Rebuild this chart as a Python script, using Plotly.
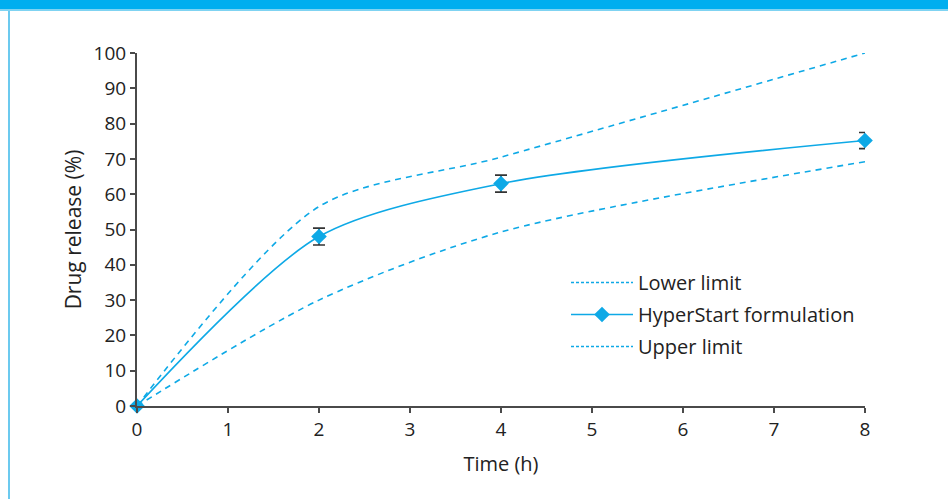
import plotly.graph_objects as go

time_h = [0, 2, 4, 8]
hyperstart = [0, 48, 63, 75.2]
hyperstart_err = [0, 2.4, 2.4, 2.3]
lower_limit = [0, 30, 49.3, 69.2]
upper_limit = [0, 56.5, 70.5, 100]

blue = "#0EA9E6"
axis_col = "#4a4a4a"
font_fam = "Open Sans, Lato, sans-serif"

W, H = 948, 499
ml, mr, mt, mb = 137, 83, 53, 93
pw, ph = W - ml - mr, H - mt - mb

def px_x(p):
    return (p - ml) / pw

def px_y(p):
    return 1 - (p - mt) / ph

fig = go.Figure()
# plotted curves
fig.add_trace(go.Scatter(x=time_h, y=lower_limit, name="Lower limit", mode="lines", showlegend=False,
                         line=dict(color=blue, width=1.6, dash="6px,5px", shape="spline", smoothing=0.8),
                         cliponaxis=False))
fig.add_trace(go.Scatter(x=time_h, y=hyperstart, name="HyperStart formulation", mode="lines+markers",
                         legendgroup="b", showlegend=True, legendrank=2,
                         line=dict(color=blue, width=1.6, shape="spline", smoothing=0.8),
                         marker=dict(symbol="diamond", size=12, color=blue),
                         error_y=dict(type="data", array=hyperstart_err, color="#333333",
                                      thickness=1.6, width=6),
                         cliponaxis=False))
fig.add_trace(go.Scatter(x=time_h, y=upper_limit, name="Upper limit", mode="lines", showlegend=False,
                         line=dict(color=blue, width=1.6, dash="6px,5px", shape="spline", smoothing=0.8),
                         cliponaxis=False))
# legend entries with dotted key lines
fig.add_trace(go.Scatter(x=[None], y=[None], name="Lower limit", mode="lines", legendgroup="a",
                         legendrank=1, line=dict(color=blue, width=1.5, dash="3px,2px")))
fig.add_trace(go.Scatter(x=[None], y=[None], name="Upper limit", mode="lines", legendgroup="c",
                         legendrank=3, line=dict(color=blue, width=1.5, dash="3px,2px")))

shapes = [
    dict(type="rect", xref="paper", yref="paper", x0=px_x(-5), x1=px_x(W + 5),
         y0=px_y(9), y1=px_y(-5), fillcolor="#00AEEF", line=dict(width=0), layer="above"),
    dict(type="rect", xref="paper", yref="paper", x0=px_x(-5), x1=px_x(W + 5),
         y0=px_y(11), y1=px_y(9), fillcolor="#7fd3f2", line=dict(width=0), layer="above"),
    dict(type="line", xref="paper", yref="paper", x0=px_x(9), x1=px_x(9),
         y0=px_y(11), y1=px_y(H + 5), line=dict(color="#3bb8ea", width=1.5)),
]

fig.update_layout(
    width=W, height=H,
    margin=dict(l=ml, r=mr, t=mt, b=mb),
    paper_bgcolor="white", plot_bgcolor="white",
    font=dict(family=font_fam, color="#222222", size=19),
    showlegend=True,
    legend=dict(x=px_x(566), y=px_y(263), xanchor="left", yanchor="top",
                font=dict(size=20, color="#222222"), bgcolor="rgba(0,0,0,0)",
                tracegroupgap=3, itemwidth=62),
    shapes=shapes,
    xaxis=dict(range=[0, 8], tickvals=list(range(0, 9)), showgrid=False, zeroline=False,
               showline=True, linecolor=axis_col, linewidth=2, ticks="outside",
               tickcolor=axis_col, ticklen=5, tickwidth=2, tickfont=dict(size=19),
               title=dict(text="Time (h)", font=dict(size=20), standoff=16)),
    yaxis=dict(range=[0, 100], tickvals=list(range(0, 101, 10)), showgrid=False, zeroline=False,
               showline=True, linecolor=axis_col, linewidth=2, ticks="outside",
               tickcolor=axis_col, ticklen=5, tickwidth=2, tickfont=dict(size=19),
               title=dict(text="Drug release (%)", font=dict(size=21), standoff=6)),
)

fig.write_html("out.html")
